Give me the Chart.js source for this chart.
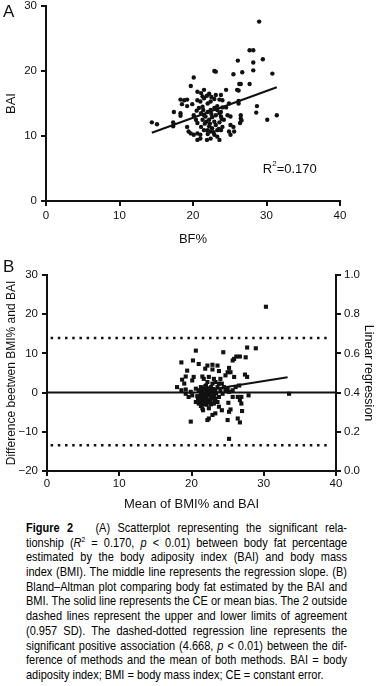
<!DOCTYPE html>
<html>
<head>
<meta charset="utf-8">
<title>Figure 2</title>
<script src="https://cdn.jsdelivr.net/npm/chart.js@4.4.1/dist/chart.umd.min.js"></script>
<style>
  body { margin: 0; width: 380px; height: 686px; background: #fff; position: relative; overflow: hidden; }
  canvas { position: absolute; left: 0; }
  #chartA { top: 0; width: 380px; height: 250px; }
  #chartB { top: 250px; width: 380px; height: 262px; }
  .panel-letter { position: absolute; font-family: "Liberation Sans", Arial, sans-serif; font-size: 17px; line-height: 1; color: #111; }
  #caption { position: absolute; left: 26px; top: 521px; width: 321px; font-family: "Liberation Sans", Arial, sans-serif; font-size: 13px; line-height: 14.7px; color: #000; }
  #caption .line { white-space: nowrap; height: 14.7px; }
  #caption .line span { display: inline-block; transform-origin: 0 50%; }
  #caption sup { font-size: 8px; line-height: 0; }
</style>
</head>
<body>
<canvas id="chartA" width="380" height="250"></canvas>
<canvas id="chartB" width="380" height="262"></canvas>
<div class="panel-letter" style="left:3px;top:3px">A</div>
<div class="panel-letter" style="left:3px;top:258px">B</div>
<div id="caption">
  <div class="line"><span><b>Figure 2</b>&nbsp;&nbsp; (A) Scatterplot representing the significant rela-</span></div>
  <div class="line"><span>tionship (<i>R</i><sup>2</sup> = 0.170, <i>p</i> &lt; 0.01) between body fat percentage</span></div>
  <div class="line"><span>estimated by the body adiposity index (BAI) and body mass</span></div>
  <div class="line"><span>index (BMI). The middle line represents the regression slope. (B)</span></div>
  <div class="line"><span>Bland–Altman plot comparing body fat estimated by the BAI and</span></div>
  <div class="line"><span>BMI. The solid line represents the CE or mean bias. The 2 outside</span></div>
  <div class="line"><span>dashed lines represent the upper and lower limits of agreement</span></div>
  <div class="line"><span>(0.957 SD). The dashed-dotted regression line represents the</span></div>
  <div class="line"><span>significant positive association (4.668, <i>p</i> &lt; 0.01) between the dif-</span></div>
  <div class="line"><span>ference of methods and the mean of both methods. BAI = body</span></div>
  <div class="line last"><span>adiposity index; BMI = body mass index; CE = constant error.</span></div>
</div>
<script>
// Panel A: BF% vs BAI scatter
const bfPercent = [
  14.4, 15.1, 29.0, 27.7, 28.2, 26.1, 28.2, 29.5, 25.5, 26.7, 28.2, 30.8, 22.9, 23.1, 20.1, 19.7,
  24.5, 26.3, 26.5, 27.7, 26.0, 26.2, 20.6, 21.5, 22.2, 18.3, 18.8, 19.2, 17.4, 18.3, 18.3, 17.3,
  17.3, 18.5, 19.2, 19.9, 20.6, 21.0, 21.5, 22.9, 23.6, 24.0, 26.2, 26.2, 24.9, 28.6, 28.7, 30.1,
  31.4, 26.5, 26.5, 26.6, 26.4, 24.7, 25.1, 24.2, 23.8, 25.1, 25.5, 24.9, 25.6, 25.1, 19.2, 19.4,
  19.7, 20.1, 20.6, 21.0, 20.6, 21.0, 21.9, 22.4, 22.9, 23.6, 23.3,
  21.1, 21.5, 22.0, 22.4, 22.9, 23.3, 23.6, 23.8, 23.1, 22.6, 22.2, 21.7, 21.3, 21.6, 22.2, 22.6,
  23.1, 23.6, 22.9, 22.4, 22.0, 21.5, 21.1, 23.3, 23.8, 24.0, 20.1, 20.4, 20.6, 20.8, 21.3, 22.0,
  22.4, 21.3, 21.1, 21.9, 22.5, 23.1, 23.8, 24.5, 24.0, 23.3, 20.5,
  22.0, 22.3, 21.8, 22.8, 23.5, 22.5, 21.4, 23.9
];
const baiValues = [
  12.1, 11.8, 27.6, 23.2, 23.2, 21.6, 21.3, 21.8, 19.5, 19.8, 20.1, 19.6, 20.0, 19.9, 19.0, 17.7,
  17.1, 18.0, 18.0, 18.0, 17.1, 17.0, 16.8, 17.1, 16.5, 15.6, 15.5, 15.6, 13.7, 13.5, 13.1, 12.1,
  11.5, 14.9, 14.6, 14.9, 15.5, 15.3, 15.8, 15.7, 15.6, 15.5, 15.4, 15.0, 15.0, 13.6, 14.6, 12.5,
  13.2, 13.2, 12.7, 12.4, 12.0, 13.2, 13.0, 12.5, 13.0, 11.7, 11.4, 10.7, 10.7, 10.2, 11.4, 10.7,
  10.4, 10.2, 10.4, 10.2, 9.4, 9.6, 9.4, 9.6, 10.2, 9.4, 9.9,
  13.5, 13.2, 13.7, 14.0, 14.3, 14.0, 13.5, 13.7, 13.2, 12.9, 12.5, 13.0, 12.5, 11.9, 11.5, 11.2,
  11.7, 12.1, 12.2, 10.7, 10.9, 10.9, 11.4, 10.9, 10.9, 11.4, 13.2, 12.5, 12.0, 14.3, 14.5, 15.0,
  15.3, 16.1, 16.6, 16.2, 16.0, 16.3, 16.3, 14.4, 14.4, 14.6, 13.9,
  10.3, 11.9, 12.2, 10.6, 11.1, 13.4, 14.0, 12.6
];
const fitAX = [14.4, 31.4];
const fitAY = [10.5, 17.5];
const ticksAX = [0, 10, 20, 30, 40];
const ticksAY = [0, 10, 20, 30];

// Panel B: Bland-Altman
const meanBoth = [
  30.3, 27.7, 28.9, 26.7, 27.5, 20.6, 24.4, 18.6, 20.2, 21.0, 22.2, 22.9, 23.6, 23.8, 22.9, 21.9,
  25.2, 25.4, 25.7, 25.9, 26.2, 24.7, 25.0, 19.4, 19.2, 18.7, 20.3, 20.1, 21.5, 21.7, 22.4, 23.1,
  24.0, 24.2, 25.9, 27.4, 27.7, 18.0, 18.6, 20.8, 21.3, 21.5, 21.6, 20.6, 22.0, 22.4, 19.9, 22.2,
  22.4, 22.9, 23.3, 23.8, 24.2, 25.1, 25.4, 25.2, 25.0, 26.4, 26.7, 25.7, 26.4, 26.9, 26.7, 26.9,
  27.0, 27.9, 25.2, 33.5,
  21.0, 21.3, 21.5, 21.7, 22.0, 22.2, 22.4, 21.7, 21.3, 22.0, 22.7, 22.9, 23.1, 23.3, 22.9, 22.4,
  22.2, 21.7, 21.5, 22.7, 23.3, 23.6, 23.8, 24.0, 24.3, 23.8, 23.6, 23.1, 24.5, 24.7, 25.0, 25.2,
  25.7, 26.1, 26.6, 22.9, 23.3, 22.2, 21.0, 21.3, 20.9, 19.6, 20.1, 19.2, 19.9, 19.2, 20.6, 19.0,
  21.2, 21.4, 21.8, 21.9, 22.1, 22.3, 22.5, 22.6, 22.8, 22.1, 21.6, 22.4, 23.0, 23.4, 21.9, 21.1,
  22.7, 23.2, 21.4, 22.2
];
const diffBoth = [
  21.9, 11.5, 11.3, 9.2, 9.0, 10.7, 10.3, 7.7, 8.2, 7.3, 6.9, 7.1, 6.9, 5.5, 5.9, 6.1,
  6.3, 5.2, 8.2, 8.6, 9.2, 4.4, 5.2, 5.6, 4.1, 3.3, 4.0, 3.1, 4.1, 3.5, 4.0, 3.5,
  3.5, 2.3, 4.0, 4.6, 4.0, 1.4, 0.6, -0.9, -2.1, -4.0, -4.5, -2.4, -2.8, -4.0, -7.4, -7.0,
  -6.6, -5.7, -5.3, -3.6, -4.5, -2.6, -4.3, -4.9, -7.0, -6.6, -7.6, -1.1, -1.1, -1.1, -1.9, -2.8,
  -4.7, -0.7, -11.8, -0.3,
  0.6, -0.3, 0.2, -0.7, -1.1, -0.3, 0.6, 1.0, 1.4, 1.8, 1.4, 0.2, -0.7, -1.5, -1.5, -1.9,
  -2.4, -1.9, -1.5, -1.1, 0.6, 1.4, 2.3, 0.6, -0.3, -1.1, -2.4, -2.8, 1.4, 0.6, 1.0, 0.2,
  0.6, 1.4, 1.8, 2.3, 2.7, 2.7, -2.8, -3.4, -1.5, -1.1, -0.7, -0.3, 0.2, 0.8, 1.0, 2.3,
  -1.0, -2.6, -0.2, 0.8, -1.6, 0.2, -0.6, -2.2, -0.9, -3.1, -2.9, 1.1, 0.9, -0.2, 1.6, -1.9,
  -3.0, -2.0, 0.6, -0.1
];
const limitsX = [0.5, 39.3];
const upperLimit = 13.9;
const lowerLimit = -13.4;
const meanBias = 0;
const fitBX = [22.0, 33.3];
const fitBY = [0.6, 3.9];
const ticksBX = [0, 10, 20, 30, 40];
const ticksBY = [-20, -10, 0, 10, 20, 30];
const ticksBRight = [0, 0.2, 0.4, 0.6, 0.8, 1.0];

const inkColor = '#111';
const fontName = '"Liberation Sans", Arial, sans-serif';

function toPoints(xs, ys) {
  return xs.map((x, i) => ({ x: x, y: ys[i] }));
}

// Shared axis look: thick black line, outside tick marks, no grid
function makeAxis(min, max, tickValues, titleText, fmt, fitSize, tickPad, titleSize, extra) {
  const axis = {
    type: 'linear',
    min: min,
    max: max,
    afterBuildTicks: s => { s.ticks = tickValues.map(v => ({ value: v })); },
    ticks: { color: inkColor, font: { family: fontName, size: 11.5 }, padding: tickPad, callback: v => fmt(v) },
    grid: { drawOnChartArea: false, color: inkColor, lineWidth: 2, tickLength: 5 },
    border: { color: inkColor, width: 2 },
    title: { display: !!titleText, text: titleText, color: inkColor, font: { family: fontName, size: titleSize }, padding: { top: 4, bottom: 0 } },
    afterFit: s => {
      if (s.isHorizontal()) {
        s.height = fitSize;
      } else {
        s.width = fitSize;
        s.paddingTop = 0;
        s.paddingBottom = 0;
      }
    }
  };
  return Object.assign(axis, extra || {});
}

const plainNum = v => String(v);
const minusNum = v => (v < 0 ? '\u2212' + Math.abs(v) : String(v));
const oneDecimal = v => v.toFixed(1);

// R^2 note in panel A
const r2Anchor = { x: 29.5, y: 4.9 };
const r2Note = {
  id: 'r2Note',
  afterDatasetsDraw(chart) {
    const ctx = chart.ctx;
    const px = chart.scales.x.getPixelForValue(r2Anchor.x);
    const py = chart.scales.y.getPixelForValue(r2Anchor.y);
    ctx.save();
    ctx.fillStyle = inkColor;
    ctx.textBaseline = 'middle';
    ctx.font = '13px ' + fontName;
    ctx.fillText('R', px, py);
    let w = ctx.measureText('R').width;
    ctx.font = '8px ' + fontName;
    ctx.fillText('2', px + w, py - 5);
    w += ctx.measureText('2').width;
    ctx.font = '13px ' + fontName;
    ctx.fillText('=0.170', px + w, py);
    ctx.restore();
  }
};

function setupChartA() {
  const ctx = document.getElementById('chartA').getContext('2d');
  new Chart(ctx, {
    type: 'scatter',
    data: {
      datasets: [
        {
          data: toPoints(bfPercent, baiValues),
          pointRadius: 2.2,
          pointBackgroundColor: inkColor,
          pointBorderWidth: 0
        },
        {
          data: toPoints(fitAX, fitAY),
          showLine: true,
          pointRadius: 0,
          borderColor: inkColor,
          borderWidth: 2
        }
      ]
    },
    options: {
      responsive: false,
      animation: false,
      layout: { padding: { top: 6, right: 40, bottom: 3, left: 0 } },
      plugins: { legend: { display: false }, tooltip: { enabled: false } },
      scales: {
        x: makeAxis(0, 40, ticksAX, 'BF%', plainNum, 46, 3, 13),
        y: makeAxis(0, 30, ticksAY, 'BAI', plainNum, 46, 4, 13)
      }
    },
    plugins: [r2Note]
  });
}

function setupChartB() {
  const ctx = document.getElementById('chartB').getContext('2d');
  new Chart(ctx, {
    type: 'scatter',
    data: {
      datasets: [
        {
          data: toPoints(meanBoth, diffBoth),
          pointStyle: 'rect',
          pointRadius: 2.9,
          pointBackgroundColor: inkColor,
          pointBorderWidth: 0
        },
        {
          data: toPoints(fitBX, fitBY),
          showLine: true,
          pointRadius: 0,
          borderColor: inkColor,
          borderWidth: 2
        },
        {
          data: toPoints([0, 40], [meanBias, meanBias]),
          showLine: true,
          pointRadius: 0,
          borderColor: inkColor,
          borderWidth: 2
        },
        {
          data: toPoints(limitsX, [upperLimit, upperLimit]),
          showLine: true,
          pointRadius: 0,
          borderColor: inkColor,
          borderWidth: 2.5,
          borderDash: [2.5, 4.7]
        },
        {
          data: toPoints(limitsX, [lowerLimit, lowerLimit]),
          showLine: true,
          pointRadius: 0,
          borderColor: inkColor,
          borderWidth: 2.5,
          borderDash: [2.5, 4.7]
        }
      ]
    },
    options: {
      responsive: false,
      animation: false,
      layout: { padding: { top: 25, right: 0, bottom: 0, left: 0 } },
      plugins: { legend: { display: false }, tooltip: { enabled: false } },
      scales: {
        x: makeAxis(0, 40, ticksBX, 'Mean of BMI% and BAI', plainNum, 41, 1, 13),
        y: makeAxis(-20, 30, ticksBY, 'Difference beetwen BMI% and BAI', minusNum, 47, 4, 12),
        y2: makeAxis(0, 1, ticksBRight, 'Linear regression', oneDecimal, 44, 3, 12.5, { position: 'right' })
      }
    }
  });
}

// Squeeze caption lines to the column width and justify them like the print
function fitCaption() {
  const boxWidth = 321;
  const lines = Array.from(document.querySelectorAll('#caption .line'));
  const widths = lines.map(el => el.firstElementChild.getBoundingClientRect().width);
  const squeeze = Math.min(1, boxWidth / Math.max.apply(null, widths));
  lines.forEach((el, i) => {
    const span = el.firstElementChild;
    span.style.transform = 'scaleX(' + squeeze + ')';
    if (!el.classList.contains('last')) {
      const gaps = (span.textContent.match(/[ \u00a0]/g) || []).length;
      const extra = (boxWidth / squeeze - widths[i]) / gaps;
      span.style.wordSpacing = extra + 'px';
    }
  });
}

setupChartA();
setupChartB();
fitCaption();
</script>
</body>
</html>
